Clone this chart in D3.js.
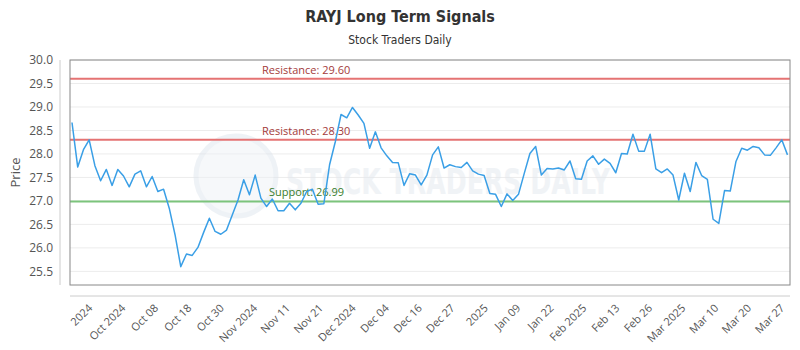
<!DOCTYPE html>
<html>
<head>
<meta charset="utf-8">
<script src="https://cdn.jsdelivr.net/npm/d3@7"></script>
<style>
    body { margin: 0; background: #fff; }
    svg text { font-family: "Open Sans", sans-serif; }
</style>
</head>
<body>
<div id="chart"></div>
<script>
// closing prices, one per trading day
let prices = [
    28.67, 27.72, 28.09, 28.30, 27.75, 27.43, 27.67, 27.33, 27.67, 27.53,
    27.30, 27.57, 27.64, 27.30, 27.52, 27.20, 27.25, 26.84, 26.28, 25.60,
    25.87, 25.84, 26.01, 26.33, 26.63, 26.35, 26.29, 26.38, 26.70, 27.02,
    27.45, 27.13, 27.55, 27.06, 26.88, 27.04, 26.79, 26.79, 26.95, 26.81,
    26.95, 27.20, 27.25, 26.93, 26.94, 27.77, 28.26, 28.84, 28.77, 28.99,
    28.83, 28.65, 28.12, 28.47, 28.13, 27.96, 27.82, 27.81, 27.33, 27.58,
    27.55, 27.34, 27.55, 27.98, 28.15, 27.70, 27.77, 27.73, 27.71, 27.82,
    27.64, 27.57, 27.54, 27.16, 27.14, 26.88, 27.15, 27.01, 27.14, 27.58,
    28.01, 28.16, 27.55, 27.69, 27.68, 27.70, 27.66, 27.85, 27.47, 27.46,
    27.85, 27.96, 27.78, 27.89, 27.80, 27.60, 28.01, 28.00, 28.42, 28.06,
    28.06, 28.42, 27.68, 27.60, 27.68, 27.55, 27.02, 27.59, 27.20, 27.82,
    27.54, 27.46, 26.61, 26.52, 27.22, 27.21, 27.84, 28.12, 28.08, 28.16,
    28.13, 27.98, 27.97, 28.13, 28.30, 27.98
];

let tickLabels = ["2024", "Oct 2024", "Oct 08", "Oct 18", "Oct 30", "Nov 2024", "Nov 11", "Nov 21",
    "Dec 2024", "Dec 04", "Dec 16", "Dec 27", "2025", "Jan 09", "Jan 22", "Feb 2025", "Feb 13",
    "Feb 26", "Mar 2025", "Mar 10", "Mar 20", "Mar 27"];
// position of each label along the data index
let tickAt = [2.6, 8.4, 14.1, 19.9, 25.6, 31.4, 37.1, 42.9, 48.6, 54.4, 60.2, 65.9, 71.7,
    77.4, 83.2, 88.9, 94.7, 100.4, 106.2, 112.0, 117.7, 123.5];

let yTicks = [25.5, 26.0, 26.5, 27.0, 27.5, 28.0, 28.5, 29.0, 29.5, 30.0];

let levels = [
    { name: "Resistance", value: 29.60, kind: "res" },
    { name: "Resistance", value: 28.30, kind: "res" },
    { name: "Support", value: 26.99, kind: "sup" }
];

let width = 800;
let height = 350;
let plot = { left: 70, right: 790, top: 60, bottom: 285 };

let svg = d3.select("#chart").append("svg")
    .attr("width", width)
    .attr("height", height);

let x = d3.scaleLinear()
    .domain([0, prices.length - 1])
    .range([plot.left + 2, plot.right - 2.5]);

let y = d3.scaleLinear()
    .domain([25.21, 30])
    .range([plot.bottom, plot.top]);

// title
svg.append("text")
    .attr("x", width / 2)
    .attr("y", 22)
    .attr("text-anchor", "middle")
    .style("font-family", "'Liberation Sans Narrow', 'DejaVu Sans Condensed', sans-serif")
    .style("font-weight", "bold")
    .style("font-size", "16px")
    .style("fill", "#333")
    .text("RAYJ Long Term Signals");

svg.append("text")
    .attr("x", width / 2)
    .attr("y", 44)
    .attr("text-anchor", "middle")
    .style("font-family", "'Liberation Sans Narrow', 'DejaVu Sans Condensed', sans-serif")
    .style("font-size", "12px")
    .style("fill", "#333")
    .text("Stock Traders Daily");

// gridlines
svg.append("g")
    .selectAll("line")
    .data(yTicks)
    .enter()
    .append("line")
    .attr("x1", plot.left)
    .attr("x2", plot.right)
    .attr("y1", d => y(d))
    .attr("y2", d => y(d))
    .style("stroke", "#ececec")
    .style("stroke-width", 1);

// watermark
let wm = svg.append("g").style("opacity", 0.5);
wm.append("circle")
    .attr("cx", 236)
    .attr("cy", 176)
    .attr("r", 40)
    .style("fill", "#eef2f6")
    .style("stroke", "#dfe6ee")
    .style("stroke-width", 5);
wm.append("text")
    .attr("x", 286)
    .attr("y", 194)
    .attr("textLength", 324)
    .attr("lengthAdjust", "spacingAndGlyphs")
    .style("font-family", "'DejaVu Sans Condensed', sans-serif")
    .style("font-size", "36px")
    .style("font-weight", "bold")
    .style("fill", "#e3e8ee")
    .text("STOCK TRADERS DAILY");

// y axis
let yAxis = d3.axisLeft(y)
    .tickValues(yTicks)
    .tickFormat(d3.format(".1f"))
    .tickSize(0)
    .tickPadding(7);

let yAxisG = svg.append("g")
    .attr("transform", "translate(60,0)")
    .call(yAxis);
yAxisG.select(".domain")
    .attr("d", `M0,${plot.top}V${plot.bottom}`)
    .style("stroke", "#ccc");
yAxisG.selectAll("text")
    .style("font-size", "12px")
    .style("fill", "#555");

svg.append("text")
    .attr("transform", `translate(20,${(plot.top + plot.bottom) / 2}) rotate(-90)`)
    .attr("text-anchor", "middle")
    .style("font-size", "13px")
    .style("fill", "#555")
    .text("Price");

// x axis
let xAxis = d3.axisBottom(x)
    .tickValues(tickAt)
    .tickFormat((d, i) => tickLabels[i])
    .tickSize(0)
    .tickPadding(0);

let xAxisG = svg.append("g")
    .attr("transform", "translate(0,296)")
    .call(xAxis);
xAxisG.select(".domain")
    .attr("d", `M${plot.left},0H${plot.right}`)
    .style("stroke", "#ccc");
xAxisG.selectAll("text")
    .attr("transform", "translate(3,10) rotate(-45)")
    .attr("text-anchor", "end")
    .attr("dy", "0.35em")
    .attr("y", 0)
    .style("font-size", "11px")
    .style("fill", "#555");

// signal levels
let levelColor = { res: "#e57373", sup: "#7cc47c" };
let levelText = { res: "#a33a3a", sup: "#3a7d2c" };
let levelLabelX = { res: 262, sup: 269 };

svg.append("g")
    .selectAll("line")
    .data(levels)
    .enter()
    .append("line")
    .attr("x1", plot.left)
    .attr("x2", plot.right)
    .attr("y1", d => y(d.value))
    .attr("y2", d => y(d.value))
    .style("stroke", d => levelColor[d.kind])
    .style("stroke-width", 2);

svg.append("g")
    .selectAll("text")
    .data(levels)
    .enter()
    .append("text")
    .attr("x", d => levelLabelX[d.kind])
    .attr("y", d => y(d.value) - 5)
    .style("font-size", "11px")
    .style("fill", d => levelText[d.kind])
    .text(d => `${d.name}: ${d.value.toFixed(2)}`);

// price line
let line = d3.line()
    .x((d, i) => x(i))
    .y(d => y(d));

svg.append("path")
    .datum(prices)
    .attr("d", line)
    .style("fill", "none")
    .style("stroke", "#3a9fe6")
    .style("stroke-width", 1.5)
    .style("stroke-linejoin", "round");

// plot frame
svg.append("rect")
    .attr("x", plot.left)
    .attr("y", plot.top)
    .attr("width", plot.right - plot.left)
    .attr("height", plot.bottom - plot.top)
    .style("fill", "none")
    .style("stroke", "#888")
    .style("stroke-width", 1);
</script>
</body>
</html>
